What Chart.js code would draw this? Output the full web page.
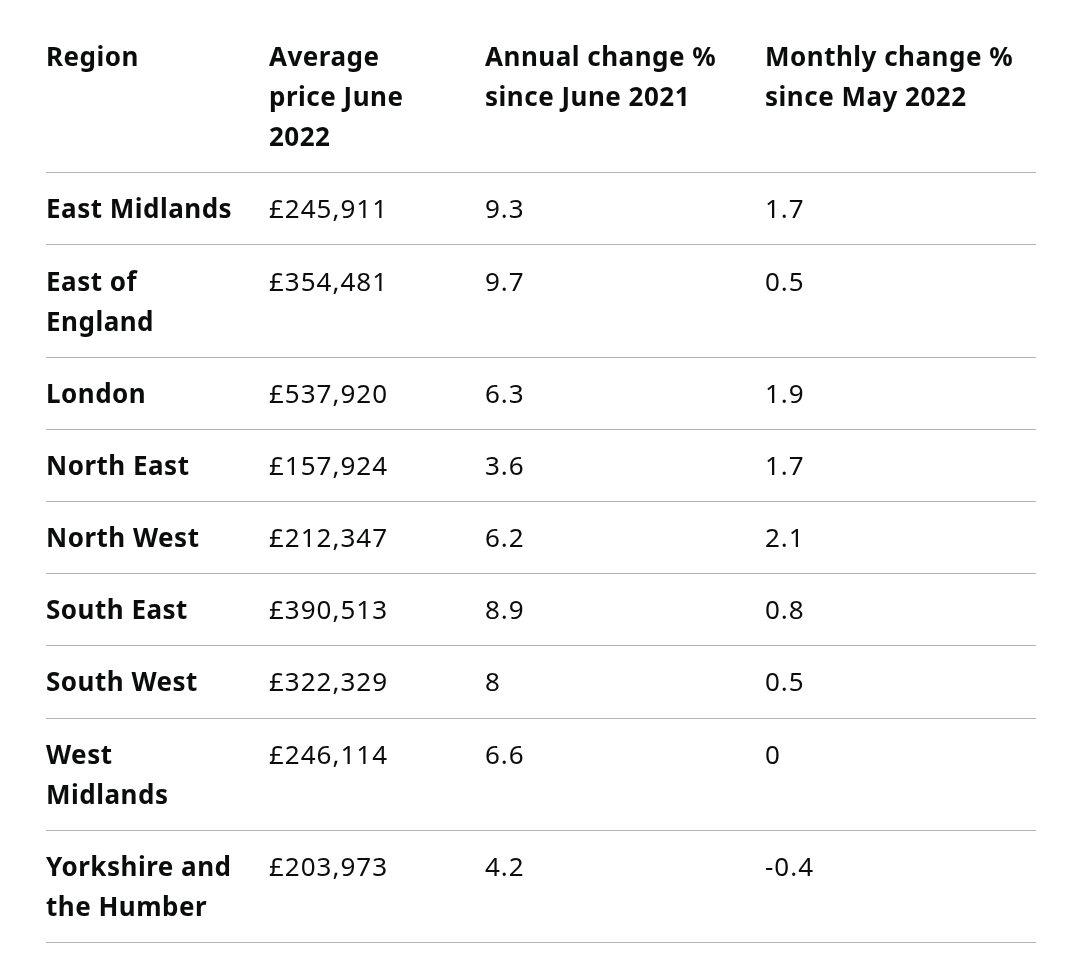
<!DOCTYPE html>
<html lang="en">
<head>
    <meta charset="UTF-8">
    <title>Average house prices by region, June 2022</title>
    <script src="https://cdn.jsdelivr.net/npm/chart.js"></script>
    <style>
        html, body {
            margin: 0;
            padding: 0;
            background: #ffffff;
        }
        #wrap {
            position: relative;
            width: 1080px;
            height: 973px;
        }
    </style>
</head>
<body>
    <div id="wrap"><canvas id="myChart"></canvas></div>

    <script>
        // table content
        const headers = [
            ['Region'],
            ['Average', 'price June', '2022'],
            ['Annual change %', 'since June 2021'],
            ['Monthly change %', 'since May 2022']
        ];
        const regions = [
            ['East Midlands'],
            ['East of', 'England'],
            ['London'],
            ['North East'],
            ['North West'],
            ['South East'],
            ['South West'],
            ['West', 'Midlands'],
            ['Yorkshire and', 'the Humber']
        ];
        const prices = [245911, 354481, 537920, 157924, 212347, 390513, 322329, 246114, 203973];
        const annualChange = [9.3, 9.7, 6.3, 3.6, 6.2, 8.9, 8, 6.6, 4.2];
        const monthlyChange = [1.7, 0.5, 1.9, 1.7, 2.1, 0.8, 0.5, 0, -0.4];

        // layout
        const colWidths = [223, 216, 280, 271];
        const lineH = 40, rowPad = 32, baseOff = 46;
        const fontFamily = '"Noto Sans", Arial, sans-serif';
        const fontSize = 26;

        const colStarts = colWidths.map((w, i) => colWidths.slice(0, i).reduce((a, b) => a + b, 0));
        const totalW = colWidths.reduce((a, b) => a + b, 0);

        // every row as list of cells, each cell a list of lines
        const rows = [headers.map(h => h)].concat(regions.map((r, i) => [
            r,
            ['£' + prices[i].toLocaleString('en-GB')],
            [String(annualChange[i])],
            [String(monthlyChange[i])]
        ]));
        const rowLines = rows.map(r => Math.max(...r.map(c => c.length)));
        const rowTops = [];
        let acc = 0;
        rowLines.forEach(n => { rowTops.push(acc); acc += rowPad + lineH * n; });
        const totalH = acc;

        const tablePlugin = {
            id: 'tablePlugin',
            afterDatasetsDraw(chart) {
                const ctx = chart.ctx;
                const xs = chart.scales.x, ys = chart.scales.y;
                const area = chart.chartArea;
                ctx.save();
                // separators under each row
                ctx.strokeStyle = '#b1b4b6';
                ctx.lineWidth = 1;
                rows.forEach((r, ri) => {
                    const yb = Math.round(ys.getPixelForValue(rowTops[ri] + rowPad + lineH * rowLines[ri])) + 0.5;
                    ctx.beginPath();
                    ctx.moveTo(area.left, yb);
                    ctx.lineTo(area.right, yb);
                    ctx.stroke();
                });
                // cell text
                ctx.fillStyle = '#0b0c0c';
                ctx.textAlign = 'left';
                ctx.textBaseline = 'alphabetic';
                chart.data.datasets.forEach((ds, ci) => {
                    ds.data.forEach((pt, ri) => {
                        const bold = ri === 0 || ci === 0;
                        ctx.font = (bold ? '700 ' : '400 ') + fontSize + 'px ' + fontFamily;
                        ctx.letterSpacing = bold ? '0.5px' : '1px';
                        const x = xs.getPixelForValue(pt.x);
                        rows[ri][ci].forEach((line, li) => {
                            const y = ys.getPixelForValue(pt.y + baseOff + lineH * li);
                            ctx.fillText(line, x, y);
                        });
                    });
                });
                ctx.restore();
            }
        };

        const ctx = document.getElementById('myChart').getContext('2d');
        new Chart(ctx, {
            type: 'scatter',
            data: {
                datasets: colStarts.map((cx, ci) => ({
                    label: headers[ci].join(' '),
                    data: rows.map((r, ri) => ({ x: cx, y: rowTops[ri] })),
                    pointRadius: 0,
                    pointHoverRadius: 0
                }))
            },
            options: {
                responsive: true,
                maintainAspectRatio: false,
                animation: false,
                layout: { padding: { left: 46, right: 44, top: 20, bottom: 31 } },
                scales: {
                    x: { type: 'linear', display: false, min: 0, max: totalW },
                    y: { type: 'linear', display: false, reverse: true, min: 0, max: totalH }
                },
                plugins: {
                    legend: { display: false },
                    tooltip: { enabled: false }
                }
            },
            plugins: [tablePlugin]
        });
    </script>
</body>
</html>
